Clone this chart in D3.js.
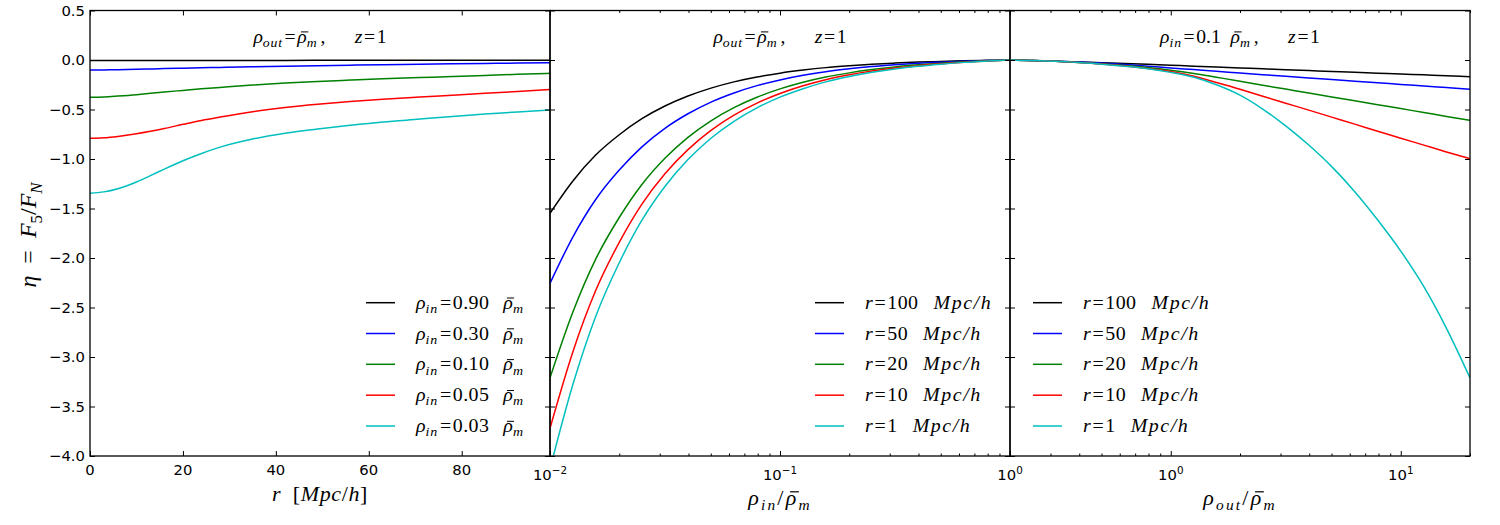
<!DOCTYPE html>
<html>
<head>
<meta charset="utf-8">
<script src="https://cdn.jsdelivr.net/npm/d3@7"></script>
<style>
  body { margin: 0; background: #fff; }
</style>
</head>
<body>
<svg id="chart" width="1500" height="525"></svg>
<script>
// ---- data ----

// left panel: eta against r, one curve per inner density
const rValues = [0, 3, 6, 10, 13, 16, 20, 24, 28, 35, 42, 49, 56, 63, 71, 78, 85, 92, 99];
const etaR090 = [-0.006, -0.006, -0.006, -0.006, -0.005, -0.005, -0.005, -0.005, -0.004, -0.004, -0.004, -0.003, -0.003, -0.003, -0.003, -0.002, -0.002, -0.002, -0.002];
const etaR030 = [-0.101, -0.100, -0.098, -0.094, -0.091, -0.087, -0.083, -0.079, -0.075, -0.068, -0.062, -0.057, -0.052, -0.047, -0.043, -0.039, -0.035, -0.031, -0.028];
const etaR010 = [-0.377, -0.373, -0.364, -0.350, -0.337, -0.323, -0.307, -0.291, -0.277, -0.253, -0.233, -0.217, -0.203, -0.190, -0.178, -0.167, -0.156, -0.145, -0.135];
const etaR005 = [-0.791, -0.786, -0.772, -0.745, -0.720, -0.692, -0.650, -0.610, -0.576, -0.522, -0.480, -0.447, -0.420, -0.397, -0.374, -0.355, -0.336, -0.318, -0.298];
const etaR003 = [-1.345, -1.332, -1.300, -1.232, -1.168, -1.102, -1.018, -0.944, -0.880, -0.798, -0.740, -0.697, -0.660, -0.627, -0.597, -0.570, -0.546, -0.525, -0.505];

// middle panel: eta against rho_in, one curve per radius
const rhoInValues = [0.01, 0.0126, 0.0158, 0.02, 0.0251, 0.0316, 0.0398, 0.0501, 0.0631, 0.0794, 0.1, 0.126, 0.158, 0.2, 0.251, 0.316, 0.398, 0.501, 0.631, 0.794, 1];
const etaIn100 = [-1.548, -1.219, -0.960, -0.755, -0.593, -0.465, -0.364, -0.284, -0.221, -0.172, -0.133, -0.102, -0.077, -0.058, -0.043, -0.031, -0.021, -0.014, -0.008, -0.0035, 0];
const etaIn50 = [-2.256, -1.783, -1.409, -1.112, -0.877, -0.690, -0.543, -0.425, -0.333, -0.259, -0.201, -0.154, -0.118, -0.089, -0.066, -0.048, -0.033, -0.022, -0.013, -0.006, 0];
const etaIn20 = [-3.210, -2.541, -2.012, -1.591, -1.257, -0.992, -0.781, -0.614, -0.481, -0.376, -0.292, -0.225, -0.172, -0.130, -0.097, -0.070, -0.049, -0.032, -0.019, -0.008, 0];
const etaIn10 = [-3.720, -2.941, -2.329, -1.842, -1.455, -1.148, -0.905, -0.711, -0.557, -0.435, -0.338, -0.260, -0.199, -0.150, -0.112, -0.081, -0.057, -0.037, -0.022, -0.010, 0];
const etaIn1 = [-4.130, -3.271, -2.590, -2.048, -1.618, -1.277, -1.006, -0.790, -0.619, -0.483, -0.375, -0.290, -0.221, -0.167, -0.124, -0.090, -0.063, -0.042, -0.024, -0.011, 0];

// right panel: eta against rho_out, one curve per radius
const rhoOutValues = [0.2, 0.25, 0.316, 0.398, 0.5, 0.631, 0.794, 1, 1.26, 1.58, 2, 2.51, 3.16, 3.98, 5.01, 6.31, 7.94, 10, 12.6, 15.8, 20];
const etaOut100 = [0, -0.005, -0.012, -0.019, -0.027, -0.035, -0.044, -0.053, -0.062, -0.071, -0.080, -0.089, -0.098, -0.107, -0.116, -0.124, -0.133, -0.142, -0.150, -0.159, -0.168];
const etaOut50 = [0, -0.005, -0.012, -0.021, -0.031, -0.045, -0.062, -0.080, -0.097, -0.114, -0.131, -0.148, -0.164, -0.181, -0.197, -0.214, -0.230, -0.247, -0.263, -0.279, -0.296];
const etaOut20 = [0, -0.005, -0.013, -0.024, -0.038, -0.055, -0.076, -0.103, -0.136, -0.174, -0.214, -0.255, -0.294, -0.334, -0.373, -0.412, -0.451, -0.491, -0.530, -0.570, -0.609];
const etaOut10 = [0, -0.005, -0.013, -0.025, -0.040, -0.060, -0.085, -0.117, -0.165, -0.228, -0.296, -0.366, -0.436, -0.506, -0.577, -0.648, -0.719, -0.790, -0.860, -0.929, -0.997];
const etaOut1 = [0, -0.005, -0.013, -0.026, -0.042, -0.063, -0.088, -0.125, -0.175, -0.250, -0.355, -0.495, -0.665, -0.859, -1.077, -1.330, -1.616, -1.930, -2.290, -2.710, -3.210];

const densityLabels = ['0.90', '0.30', '0.10', '0.05', '0.03'];
const radiusLabels = ['100', '50', '20', '10', '1'];
const seriesColors = ['#000000', '#0000ff', '#008000', '#ff0000', '#00bfbf'];
const yTickValues = [0.5, 0.0, -0.5, -1.0, -1.5, -2.0, -2.5, -3.0, -3.5, -4.0];
const linearTickValues = [0, 20, 40, 60, 80];

// ---- layout ----
const mathFont = "'Liberation Serif', 'DejaVu Serif', serif";
const tickFont = "'DejaVu Sans', sans-serif";
const plotTop = 10.5;
const plotBottom = 456;
const majorLen = 5;
const minorLen = 2.5;

const svg = d3.select('#chart');

const y = d3.scaleLinear().domain([-4, 0.5]).range([plotBottom, plotTop]);

// Write a small piece of math as tspans.
// kinds: i = italic, n = upright, bar = italic with an overbar,
// sub / subn = italic / upright subscript, sup = superscript.
// An optional third entry is extra letter spacing for that piece.
// opts.stretch widens the glyphs a little, the TeX fonts run wider than Times.
function mathText(parent, parts, size, opts) {
    const text = parent.append('text')
        .attr('font-family', opts.family || mathFont)
        .attr('font-size', size)
        .attr('x', opts.x)
        .attr('y', opts.y)
        .attr('text-anchor', opts.anchor || 'start');
    if (opts.spacing) text.attr('letter-spacing', opts.spacing);
    if (opts.transform) text.attr('transform', opts.transform);

    let shift = 0;
    let charIndex = 0;
    const bars = [];
    parts.forEach(([s, kind, ls]) => {
        const span = text.append('tspan').text(s);
        let target = 0;
        if (kind === 'sub' || kind === 'subn') {
            target = 0.24 * size;
            span.attr('font-size', 0.7 * size);
        } else if (kind === 'sup') {
            target = -0.42 * size;
            span.attr('font-size', 0.7 * size);
        }
        if (target !== shift) {
            span.attr('dy', target - shift);
            shift = target;
        }
        const italic = kind === 'i' || kind === 'sub' || kind === 'bar';
        span.attr('font-style', italic ? 'italic' : 'normal');
        if (ls !== undefined) span.attr('letter-spacing', ls);
        if (kind === 'bar') bars.push(charIndex);
        charIndex += s.length;
    });

    if (opts.stretch) {
        const w = text.node().getComputedTextLength();
        text.attr('textLength', w * opts.stretch).attr('lengthAdjust', 'spacingAndGlyphs');
    }

    // overbars (rho bar) drawn as short strokes above the glyph
    bars.forEach(idx => {
        const ext = text.node().getExtentOfChar(idx);
        const yb = opts.y - 0.6 * size;
        parent.append('line')
            .attr('x1', ext.x + 0.2 * size)
            .attr('x2', ext.x + 0.6 * size)
            .attr('y1', yb).attr('y2', yb)
            .attr('stroke', '#000')
            .attr('stroke-width', Math.max(1, size * 0.055));
    });
    return text;
}

const eq = '\u200a=\u200a';
const numGap = '\u2002\u2009';

const panels = [
    {
        x: d3.scaleLinear().domain([0, 99]).range([90, 550]),
        xs: rValues,
        series: [etaR090, etaR030, etaR010, etaR005, etaR003],
        legend: densityLabels.map(v => [['ρ', 'i'], ['in', 'sub', 0.8], [eq, 'n'], [v, 'n', 0.4], [numGap, 'n'], ['ρ', 'bar'], ['m', 'sub', 1]]),
        legendX: 366,
        title: [['ρ', 'i'], ['out', 'sub', 0.8], [eq, 'n'], ['ρ', 'bar'], ['m', 'sub'], ['\u2009,\u2003\u2002', 'n'], ['z', 'i'], [eq + '1', 'n']],
        xlabel: [['r', 'i'], ['\u2002[', 'n'], ['Mpc', 'i'], ['/', 'n'], ['h', 'i'], [']', 'n']],
        xlabelY: 501,
        xlabelSpacing: 0.6
    },
    {
        x: d3.scaleLog().domain([0.01, 1]).range([550, 1010]),
        xs: rhoInValues,
        series: [etaIn100, etaIn50, etaIn20, etaIn10, etaIn1],
        legend: radiusLabels.map(v => [['r', 'i'], [eq, 'n'], [v, 'n', 0.4], ['\u2002\u2005', 'n'], ['Mpc/h', 'i', 1.4]]),
        legendX: 815,
        title: [['ρ', 'i'], ['out', 'sub', 0.8], [eq, 'n'], ['ρ', 'bar'], ['m', 'sub'], ['\u2009,\u2003\u2002', 'n'], ['z', 'i'], [eq + '1', 'n']],
        xlabel: [['ρ', 'i'], ['in', 'sub'], ['/', 'n'], ['ρ', 'bar'], ['m', 'sub']],
        xlabelY: 505,
        xlabelSpacing: 2.2
    },
    {
        x: d3.scaleLog().domain([0.2, 20]).range([1010, 1470]),
        xs: rhoOutValues,
        series: [etaOut100, etaOut50, etaOut20, etaOut10, etaOut1],
        legend: radiusLabels.map(v => [['r', 'i'], [eq, 'n'], [v, 'n', 0.4], ['\u2002\u2005', 'n'], ['Mpc/h', 'i', 1.4]]),
        legendX: 1033,
        title: [['ρ', 'i'], ['in', 'sub', 0.8], [eq, 'n'], ['0.1', 'n'], ['\u2002', 'n'], ['ρ', 'bar'], ['m', 'sub'], ['\u2009,\u2003\u2002', 'n'], ['z', 'i'], [eq + '1', 'n']],
        xlabel: [['ρ', 'i'], ['out', 'sub'], ['/', 'n'], ['ρ', 'bar'], ['m', 'sub']],
        xlabelY: 505,
        xlabelSpacing: 2.2
    }
];

const legendRows = [302.7, 333.5, 364.3, 395.2, 426];

panels.forEach((p, i) => {
    const [x0, x1] = p.x.range();
    const g = svg.append('g');
    const isLog = i > 0;

    // clip the curves to the plotting box
    const clipId = 'clip' + i;
    svg.append('clipPath').attr('id', clipId)
        .append('rect')
        .attr('x', x0).attr('y', plotTop)
        .attr('width', x1 - x0).attr('height', plotBottom - plotTop);

    const line = d3.line()
        .x((d, k) => p.x(p.xs[k]))
        .y(d => y(d))
        .curve(d3.curveMonotoneX);

    g.append('g').attr('clip-path', `url(#${clipId})`)
        .selectAll('path')
        .data(p.series)
        .join('path')
        .attr('d', line)
        .attr('fill', 'none')
        .attr('stroke', (d, k) => seriesColors[k])
        .attr('stroke-width', 1.5);

    // ticks, all pointing inward on every side
    let majors, minors;
    if (isLog) {
        const all = p.x.ticks();
        majors = all.filter(d => Math.abs(Math.log10(d) - Math.round(Math.log10(d))) < 1e-9);
        minors = all.filter(d => !majors.includes(d));
    } else {
        majors = linearTickValues;
        minors = [];
    }

    const tickSets = [
        [d3.axisBottom(p.x).tickValues(majors).tickSize(-majorLen), plotBottom],
        [d3.axisTop(p.x).tickValues(majors).tickSize(-majorLen), plotTop],
        [d3.axisBottom(p.x).tickValues(minors).tickSize(-minorLen), plotBottom],
        [d3.axisTop(p.x).tickValues(minors).tickSize(-minorLen), plotTop]
    ];
    tickSets.forEach(([axis, yPos]) => {
        const a = g.append('g')
            .attr('transform', `translate(0,${yPos})`)
            .call(axis.tickFormat(''));
        a.select('.domain').remove();
        a.selectAll('line').attr('stroke', '#000').attr('stroke-width', 1);
    });

    [[d3.axisLeft(y), x0], [d3.axisRight(y), x1]].forEach(([axis, xPos]) => {
        const a = g.append('g')
            .attr('transform', `translate(${xPos},0)`)
            .call(axis.tickValues(yTickValues).tickSize(-majorLen).tickFormat(''));
        a.select('.domain').remove();
        a.selectAll('line').attr('stroke', '#000').attr('stroke-width', 1);
    });

    // y tick labels only on the first panel
    if (i === 0) {
        g.selectAll('text.ylab')
            .data(yTickValues)
            .join('text')
            .attr('class', 'ylab')
            .attr('x', x0 - 5)
            .attr('y', d => y(d) + 5.3)
            .attr('text-anchor', 'end')
            .attr('font-family', tickFont)
            .attr('font-size', 14.8)
            .text(d => d3.format('.1f')(d).replace('-', '\u2212'));
    }

    // x tick labels
    if (isLog) {
        majors.forEach(d => {
            const exp = Math.round(Math.log10(d));
            mathText(g, [['10', 'n'], [String(exp).replace('-', '\u2212'), 'sup']], 14.8,
                { family: tickFont, x: p.x(d), y: 480, anchor: 'middle' });
        });
    } else {
        g.selectAll('text.xlab')
            .data(majors)
            .join('text')
            .attr('class', 'xlab')
            .attr('x', d => p.x(d))
            .attr('y', 475)
            .attr('text-anchor', 'middle')
            .attr('font-family', tickFont)
            .attr('font-size', 14.8)
            .text(d => d);
    }

    // frame
    g.append('rect')
        .attr('x', x0).attr('y', plotTop)
        .attr('width', x1 - x0).attr('height', plotBottom - plotTop)
        .attr('fill', 'none')
        .attr('stroke', '#000')
        .attr('stroke-width', 1.3);

    // panel title
    mathText(g, p.title, 18.5, { x: (x0 + x1) / 2, y: 43, anchor: 'middle', stretch: 1.06 });

    // axis label
    mathText(g, p.xlabel, 22, { x: (x0 + x1) / 2, y: p.xlabelY, anchor: 'middle', spacing: p.xlabelSpacing });

    // legend
    p.legend.forEach((parts, k) => {
        const ly = legendRows[k];
        g.append('line')
            .attr('x1', p.legendX).attr('x2', p.legendX + 29)
            .attr('y1', ly).attr('y2', ly)
            .attr('stroke', seriesColors[k])
            .attr('stroke-width', 1.5);
        mathText(g, parts, 17.8, { x: p.legendX + 50, y: ly + 6, stretch: 1.12 });
    });
});

// shared y label
mathText(svg, [['η', 'i'], ['\u2002=\u2002', 'n'], ['F', 'i'], ['5', 'subn'], ['/', 'n'], ['F', 'i'], ['N', 'sub']], 24,
    { x: 0, y: 0, anchor: 'middle', transform: 'translate(36,235) rotate(-90)' });
</script>
</body>
</html>
